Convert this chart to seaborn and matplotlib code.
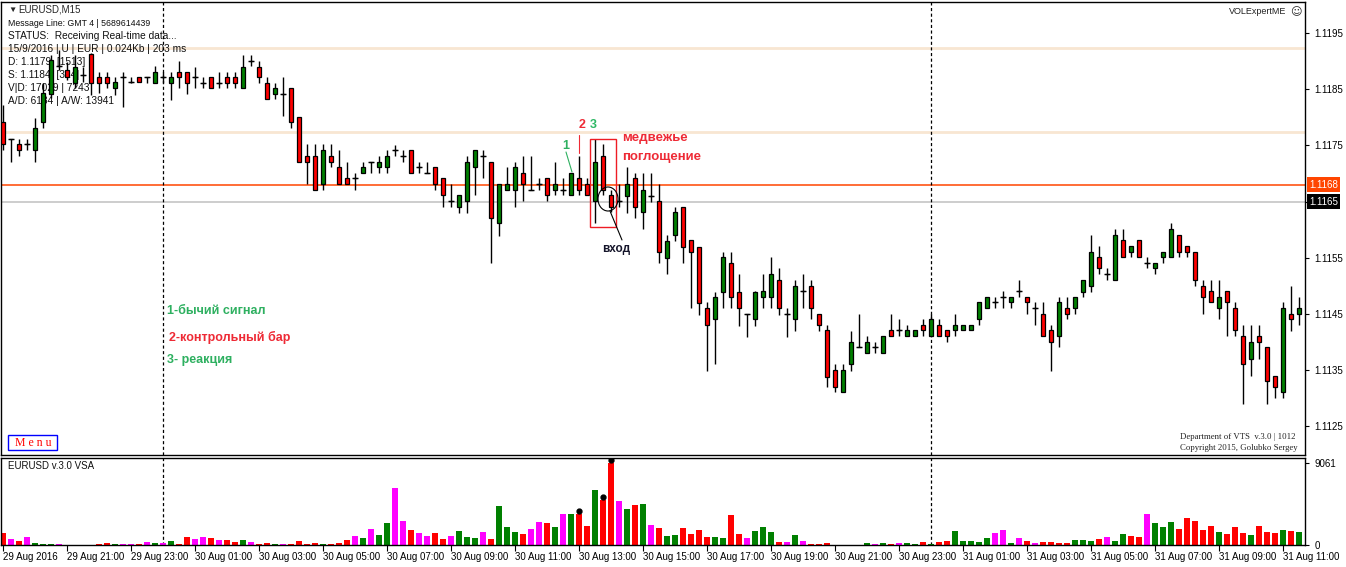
import matplotlib
matplotlib.use("Agg")
import matplotlib.pyplot as plt
import matplotlib.transforms as mtransforms
from matplotlib.patches import Rectangle, Ellipse
import seaborn as sns

# EURUSD M15, 29 Aug 19:00 .. 31 Aug 11:30
opens = [
    1.11792, 1.11761, 1.11753, 1.11753, 1.11742, 1.11792, 1.11842, 1.11891, 1.11884, 1.11861,
    1.11875, 1.11913, 1.11872, 1.11872, 1.11852, 1.11872, 1.11863, 1.11872, 1.11872, 1.11861,
    1.11872, 1.11861, 1.11881, 1.11881, 1.11872, 1.11861, 1.11872, 1.11861, 1.11872, 1.11872,
    1.11852, 1.11900, 1.11890, 1.11861, 1.11842, 1.11842, 1.11852, 1.11801, 1.11731, 1.11731,
    1.11681, 1.11731, 1.11712, 1.11692, 1.11692, 1.11701, 1.11721, 1.11712, 1.11712, 1.11742,
    1.11731, 1.11742, 1.11712, 1.11701, 1.11712, 1.11692, 1.11651, 1.11641, 1.11651, 1.11712,
    1.11731, 1.11721, 1.11612, 1.11671, 1.11671, 1.11701, 1.11671, 1.11681, 1.11692, 1.11671,
    1.11671, 1.11662, 1.11692, 1.11681, 1.11651, 1.11731, 1.11662, 1.11651, 1.11660, 1.11692,
    1.11632, 1.11660, 1.11651, 1.11550, 1.11591, 1.11641, 1.11582, 1.11569, 1.11461, 1.11441,
    1.11489, 1.11541, 1.11489, 1.11450, 1.11441, 1.11480, 1.11480, 1.11511, 1.11450, 1.11441,
    1.11491, 1.11500, 1.11450, 1.11422, 1.11350, 1.11311, 1.11361, 1.11391, 1.11381, 1.11391,
    1.11381, 1.11422, 1.11422, 1.11411, 1.11411, 1.11431, 1.11411, 1.11431, 1.11422, 1.11422,
    1.11422, 1.11422, 1.11441, 1.11461, 1.11471, 1.11480, 1.11471, 1.11491, 1.11480, 1.11461,
    1.11450, 1.11422, 1.11411, 1.11461, 1.11461, 1.11489, 1.11500, 1.11552, 1.11521, 1.11511,
    1.11582, 1.11560, 1.11582, 1.11541, 1.11532, 1.11552, 1.11552, 1.11591, 1.11571, 1.11560,
    1.11500, 1.11491, 1.11461, 1.11491, 1.11461, 1.11411, 1.11370, 1.11411, 1.11391, 1.11340,
    1.11311, 1.11450, 1.11450,
]
highs = [
    1.11822, 1.11761, 1.11761, 1.11761, 1.11799, 1.11861, 1.11911, 1.11920, 1.11898, 1.11911,
    1.11890, 1.11914, 1.11881, 1.11881, 1.11872, 1.11881, 1.11872, 1.11872, 1.11872, 1.11891,
    1.11881, 1.11881, 1.11900, 1.11881, 1.11890, 1.11872, 1.11872, 1.11881, 1.11881, 1.11881,
    1.11911, 1.11911, 1.11900, 1.11872, 1.11861, 1.11872, 1.11852, 1.11801, 1.11753, 1.11753,
    1.11753, 1.11753, 1.11742, 1.11721, 1.11701, 1.11721, 1.11721, 1.11731, 1.11742, 1.11751,
    1.11742, 1.11742, 1.11721, 1.11721, 1.11712, 1.11692, 1.11681, 1.11662, 1.11731, 1.11742,
    1.11742, 1.11721, 1.11681, 1.11712, 1.11721, 1.11731, 1.11731, 1.11692, 1.11692, 1.11721,
    1.11692, 1.11701, 1.11731, 1.11692, 1.11761, 1.11753, 1.11671, 1.11681, 1.11712, 1.11701,
    1.11701, 1.11701, 1.11681, 1.11591, 1.11641, 1.11641, 1.11582, 1.11569, 1.11471, 1.11489,
    1.11560, 1.11560, 1.11521, 1.11450, 1.11491, 1.11521, 1.11552, 1.11532, 1.11461, 1.11511,
    1.11521, 1.11511, 1.11450, 1.11431, 1.11361, 1.11361, 1.11420, 1.11450, 1.11411, 1.11400,
    1.11411, 1.11450, 1.11441, 1.11431, 1.11422, 1.11441, 1.11450, 1.11441, 1.11422, 1.11450,
    1.11431, 1.11431, 1.11471, 1.11480, 1.11480, 1.11491, 1.11480, 1.11511, 1.11480, 1.11471,
    1.11471, 1.11431, 1.11480, 1.11480, 1.11480, 1.11511, 1.11591, 1.11571, 1.11532, 1.11601,
    1.11601, 1.11571, 1.11582, 1.11552, 1.11541, 1.11560, 1.11612, 1.11591, 1.11571, 1.11560,
    1.11511, 1.11511, 1.11511, 1.11491, 1.11471, 1.11431, 1.11431, 1.11431, 1.11391, 1.11340,
    1.11471, 1.11500, 1.11480,
]
lows = [
    1.11742, 1.11721, 1.11731, 1.11742, 1.11721, 1.11781, 1.11834, 1.11884, 1.11866, 1.11852,
    1.11863, 1.11840, 1.11843, 1.11852, 1.11840, 1.11818, 1.11861, 1.11863, 1.11861, 1.11861,
    1.11861, 1.11831, 1.11852, 1.11842, 1.11852, 1.11852, 1.11852, 1.11852, 1.11852, 1.11852,
    1.11852, 1.11891, 1.11861, 1.11833, 1.11833, 1.11802, 1.11781, 1.11721, 1.11681, 1.11671,
    1.11671, 1.11712, 1.11681, 1.11681, 1.11671, 1.11701, 1.11701, 1.11701, 1.11701, 1.11731,
    1.11721, 1.11701, 1.11701, 1.11701, 1.11671, 1.11641, 1.11641, 1.11630, 1.11630, 1.11662,
    1.11692, 1.11541, 1.11589, 1.11671, 1.11641, 1.11651, 1.11671, 1.11671, 1.11651, 1.11662,
    1.11662, 1.11662, 1.11662, 1.11662, 1.11612, 1.11662, 1.11632, 1.11641, 1.11630, 1.11621,
    1.11601, 1.11650, 1.11541, 1.11521, 1.11580, 1.11541, 1.11461, 1.11448, 1.11349, 1.11361,
    1.11461, 1.11461, 1.11429, 1.11409, 1.11429, 1.11461, 1.11461, 1.11448, 1.11409, 1.11420,
    1.11461, 1.11441, 1.11420, 1.11320, 1.11311, 1.11311, 1.11349, 1.11391, 1.11381, 1.11381,
    1.11381, 1.11411, 1.11411, 1.11411, 1.11411, 1.11411, 1.11411, 1.11411, 1.11400, 1.11411,
    1.11422, 1.11422, 1.11431, 1.11461, 1.11461, 1.11461, 1.11461, 1.11480, 1.11450, 1.11431,
    1.11411, 1.11349, 1.11391, 1.11441, 1.11450, 1.11480, 1.11489, 1.11521, 1.11511, 1.11511,
    1.11552, 1.11552, 1.11552, 1.11532, 1.11521, 1.11541, 1.11552, 1.11552, 1.11552, 1.11500,
    1.11450, 1.11471, 1.11441, 1.11411, 1.11411, 1.11290, 1.11340, 1.11370, 1.11290, 1.11301,
    1.11301, 1.11420, 1.11431,
]
closes = [
    1.11753, 1.11761, 1.11742, 1.11753, 1.11781, 1.11843, 1.11902, 1.11891, 1.11872, 1.11890,
    1.11875, 1.11861, 1.11861, 1.11861, 1.11863, 1.11872, 1.11863, 1.11863, 1.11872, 1.11881,
    1.11872, 1.11872, 1.11872, 1.11861, 1.11872, 1.11861, 1.11852, 1.11861, 1.11861, 1.11861,
    1.11890, 1.11900, 1.11872, 1.11833, 1.11852, 1.11842, 1.11792, 1.11721, 1.11721, 1.11671,
    1.11742, 1.11721, 1.11681, 1.11681, 1.11692, 1.11712, 1.11721, 1.11721, 1.11731, 1.11742,
    1.11731, 1.11701, 1.11712, 1.11701, 1.11681, 1.11662, 1.11651, 1.11662, 1.11721, 1.11742,
    1.11731, 1.11621, 1.11681, 1.11681, 1.11712, 1.11681, 1.11671, 1.11681, 1.11662, 1.11681,
    1.11671, 1.11701, 1.11671, 1.11662, 1.11721, 1.11671, 1.11641, 1.11651, 1.11681, 1.11641,
    1.11671, 1.11660, 1.11560, 1.11580, 1.11632, 1.11569, 1.11560, 1.11470, 1.11431, 1.11480,
    1.11552, 1.11480, 1.11461, 1.11450, 1.11489, 1.11491, 1.11521, 1.11461, 1.11450, 1.11500,
    1.11491, 1.11461, 1.11431, 1.11338, 1.11320, 1.11350, 1.11400, 1.11391, 1.11400, 1.11391,
    1.11411, 1.11411, 1.11422, 1.11422, 1.11422, 1.11422, 1.11441, 1.11411, 1.11411, 1.11431,
    1.11431, 1.11431, 1.11471, 1.11480, 1.11471, 1.11480, 1.11480, 1.11491, 1.11471, 1.11461,
    1.11411, 1.11400, 1.11471, 1.11450, 1.11480, 1.11511, 1.11560, 1.11532, 1.11521, 1.11591,
    1.11552, 1.11571, 1.11552, 1.11541, 1.11541, 1.11560, 1.11601, 1.11560, 1.11560, 1.11511,
    1.11480, 1.11471, 1.11480, 1.11471, 1.11422, 1.11361, 1.11400, 1.11400, 1.11331, 1.11320,
    1.11461, 1.11441, 1.11461,
]

# VSA volume histogram and its colour class (g = green, r = red, m = magenta)
volumes = [
    1362, 662, 442, 883, 221, 110, 110, 110, 0, 0,
    0, 0, 110, 221, 110, 74, 74, 110, 331, 221,
    221, 442, 110, 883, 662, 883, 773, 552, 552, 331,
    552, 331, 60, 221, 60, 110, 110, 442, 110, 221,
    110, 110, 221, 552, 994, 773, 1766, 1104, 2429, 6330,
    2650, 1656, 1325, 994, 1325, 662, 994, 1546, 883, 773,
    1435, 662, 4306, 1987, 1435, 1214, 1766, 2539, 2429, 1987,
    3422, 3422, 3422, 2098, 6072, 4968, 9061, 4858, 3974, 4416,
    4526, 2208, 1877, 994, 1104, 1877, 1214, 1656, 883, 883,
    773, 3312, 1214, 773, 1546, 1987, 1435, 331, 331, 1104,
    442, 110, 60, 221, 0, 0, 0, 0, 184, 74,
    184, 74, 184, 184, 74, 294, 110, 294, 405, 1509,
    405, 405, 294, 736, 1288, 1619, 184, 736, 405, 184,
    294, 294, 184, 184, 515, 515, 405, 626, 846, 405,
    1178, 957, 846, 3386, 2392, 1950, 2502, 1730, 2944, 2613,
    1619, 2061, 1398, 1178, 1950, 1288, 1067, 2061, 1398, 1288,
    1619, 1509, 1398,
]
vol_class = list(
    "rmrmgggmgg" "ggrrgmmrmg" "mgrrmmrmrr" "gmrrgmrrrr"
    "grrrmgmggm" "mrmmrrmggg" "mrgggrmmrg" "mgrrgrrmgr"
    "gmrggrrrrg" "grrmgggrmg" "mrrrgggggm" "grmggrgrrg"
    "ggggmmgmrm" "rrrrgggrmg" "grrmgggrrr" "rrgrrrgrrr"
    "grg"
)
vsa_marked = [72, 75, 76]  # bars with a black marker above the volume bar

ask_price = 1.1168
bid_price = 1.1165
level_lines = [1.11923, 1.11774]
day_breaks = [20, 116]
price_ticks = [1.1125, 1.1135, 1.1145, 1.1155, 1.1165, 1.1175, 1.1185, 1.1195]
time_labels = [
    "29 Aug 2016", "29 Aug 21:00", "29 Aug 23:00", "30 Aug 01:00", "30 Aug 03:00",
    "30 Aug 05:00", "30 Aug 07:00", "30 Aug 09:00", "30 Aug 11:00", "30 Aug 13:00",
    "30 Aug 15:00", "30 Aug 17:00", "30 Aug 19:00", "30 Aug 21:00", "30 Aug 23:00",
    "31 Aug 01:00", "31 Aug 03:00", "31 Aug 05:00", "31 Aug 07:00", "31 Aug 09:00",
    "31 Aug 11:00",
]

n = len(opens)
assert n == len(highs) == len(lows) == len(closes) == len(volumes) == len(vol_class) == 163

BULL = "#008000"
BEAR = "#ff0000"
vol_palette = {"g": "#008000", "r": "#ff0000", "m": "#ff00ff"}
NOTE_GREEN = "#2eb060"
NOTE_RED = "#ee2a35"

sns.set_theme(style="white")
plt.rcParams["font.family"] = ["Liberation Sans", "DejaVu Sans"]

W, H = 1346, 567
fig = plt.figure(figsize=(W / 100, H / 100), dpi=100)
fig.patch.set_facecolor("white")


def fx(px):
    return px / W


def fy(py):
    return 1 - py / H


# pixel coordinates (origin top-left) -> figure
pix = mtransforms.Affine2D().scale(1 / W, -1 / H).translate(0, 1) + fig.transFigure

ax = fig.add_axes([fx(1), fy(455), fx(1305) - fx(1), fy(2) - fy(455)])
axv = fig.add_axes([fx(1), fy(545), fx(1305) - fx(1), fy(458) - fy(545)])

idx = list(range(n))

# ---- price panel ----
for lv in level_lines:
    ax.axhline(lv, color="#f8e6d2", lw=2, zorder=1)
ax.axhline(ask_price, color="#ff4500", lw=1.1, zorder=2)
ax.axhline(bid_price, color="#c0c0c0", lw=1.1, zorder=2)
for d in day_breaks:
    ax.axvline(d, color="black", lw=0.9, ls=(0, (2.5, 2)), zorder=2)
    axv.axvline(d, color="black", lw=0.9, ls=(0, (2.5, 2)), zorder=0)

ax.vlines(idx, lows, highs, color="black", lw=1, zorder=3)
body_col, body_bot, body_h = [], [], []
for o, c in zip(opens, closes):
    body_col.append(BULL if c > o else BEAR)
    body_bot.append(min(o, c))
    body_h.append(abs(c - o))
ax.bar(idx, body_h, bottom=body_bot, width=0.6, color=body_col,
       edgecolor="black", linewidth=0.9, zorder=4)
doji = [i for i in idx if opens[i] == closes[i]]
ax.hlines([opens[i] for i in doji], [i - 0.32 for i in doji], [i + 0.32 for i in doji],
          color="black", lw=1, zorder=4)

ax.set_xlim(-0.25, 162.75)
ax.set_ylim(1.11199, 1.12005)
ax.set_xticks([])
ax.yaxis.tick_right()
ax.set_yticks(price_ticks)
# the bid tag covers its own tick label
ax.set_yticklabels(["" if p == bid_price else f"{p:.4f}" for p in price_ticks])
ax.tick_params(axis="y", direction="out", length=3, width=0.8, pad=4,
               labelsize=7, colors="black", right=True)
for s in ax.spines.values():
    s.set_color("black")
    s.set_linewidth(1)

# highlighted price tags
tagtf = mtransforms.blended_transform_factory(ax.transAxes, ax.transData)
ax.text(1.003, ask_price, f"{ask_price:.4f}", transform=tagtf, fontsize=7, color="white",
        va="center", ha="left", zorder=6,
        bbox=dict(facecolor="#ff4500", edgecolor="none", pad=1.6))
ax.text(1.003, bid_price, f"{bid_price:.4f}", transform=tagtf, fontsize=7, color="white",
        va="center", ha="left", zorder=6,
        bbox=dict(facecolor="black", edgecolor="none", pad=1.6))

# info block top-left (drawn under the candles)
ax.text(8, 10, "\u25bc", transform=pix, fontsize=6, va="center", ha="left", zorder=1)
ax.text(18, 10, "EURUSD,M15", transform=pix, fontsize=7, va="center", ha="left", zorder=1)
info = [
    (23, "Message Line: GMT 4 | 5689614439", 6.3),
    (36, "STATUS:  Receiving Real-time data...", 7.3),
    (49, "15/9/2016 | U | EUR | 0.024Kb | 203 ms", 7.3),
    (62, "D: 1.1179  [1513]", 7.3),
    (75, "S: 1.1184  [324]", 7.3),
    (88, "V|D: 17029 | 7243", 7.3),
    (101, "A/D: 6134 | A/W: 13941", 7.3),
]
for y, t, fs in info:
    ax.text(8, y, t, transform=pix, fontsize=fs, va="center", ha="left",
            color="#111111", zorder=1)
ax.text(1286, 12, "VOLExpertME", transform=pix, fontsize=6.5, va="center", ha="right",
        color="#222222", zorder=1)
ax.text(1296, 12, "\u263a", transform=pix, fontsize=8, va="center", ha="center",
        family="DejaVu Sans", zorder=1)

# trade annotation
bold = dict(family="Liberation Sans", fontweight="bold", transform=pix, zorder=6)
ax.add_patch(Rectangle((590, 139), 26, 88, transform=pix, fill=False,
                       edgecolor="#ee1c24", lw=1, zorder=5))
ax.add_patch(Ellipse((608, 199), 20, 24, transform=pix, fill=False,
                     edgecolor="black", lw=0.8, zorder=5))
ax.plot([610, 622], [211, 240], transform=pix, color="black", lw=0.8, zorder=5)
ax.plot([566, 572], [152, 172], transform=pix, color=NOTE_GREEN, lw=0.8, zorder=5)
ax.plot([579, 579], [135, 153], transform=pix, color=NOTE_RED, lw=0.8, zorder=5)
ax.text(616, 249, "вход", fontsize=8.5, color="#15152a", ha="center", va="center", **bold)
ax.text(566, 146, "1", fontsize=9, color=NOTE_GREEN, ha="center", va="center", **bold)
ax.text(582, 125, "2", fontsize=9, color=NOTE_RED, ha="center", va="center", **bold)
ax.text(593, 125, "3", fontsize=9, color="#2eb865", ha="center", va="center", **bold)
ax.text(622, 138, "медвежье", fontsize=9.5, color=NOTE_RED, ha="left", va="center", **bold)
ax.text(622, 157, "поглощение", fontsize=9.5, color=NOTE_RED, ha="left", va="center", **bold)

ax.text(167, 311, "1-бычий сигнал", fontsize=9, color=NOTE_GREEN, ha="left", va="center", **bold)
ax.text(169, 337, "2-контрольный бар", fontsize=9, color=NOTE_RED, ha="left", va="center", **bold)
ax.text(167, 360, "3- реакция", fontsize=9, color=NOTE_GREEN, ha="left", va="center", **bold)

# menu button and copyright
ax.add_patch(Rectangle((8, 435), 49, 15, transform=pix, facecolor="white",
                       edgecolor="#0000ff", lw=1, zorder=6))
ax.text(33, 443, "M e n u", transform=pix, fontsize=8.5, family="Liberation Serif",
        color="#ff0000", ha="center", va="center", zorder=7)
ax.text(1296, 437, "Department of VTS  v.3.0 | 1012", transform=pix, fontsize=6.3,
        family="Liberation Serif", color="#222222", ha="right", va="center", zorder=6)
ax.text(1298, 448, "Copyright 2015, Golubko Sergey", transform=pix, fontsize=6.3,
        family="Liberation Serif", color="#222222", ha="right", va="center", zorder=6)

# ---- volume panel ----
sns.barplot(x=idx, y=volumes, hue=vol_class, palette=vol_palette, dodge=False,
            native_scale=True, width=0.65, saturation=1, errorbar=None,
            legend=False, linewidth=0, ax=axv)
axv.plot(vsa_marked, [volumes[i] + 300 for i in vsa_marked], "o", color="black",
         ms=3.5, zorder=5)
axv.set_xlim(-0.25, 162.75)
axv.set_ylim(0, 9061 * 87 / 82)
axv.set_xlabel("")
axv.set_ylabel("")
axv.yaxis.tick_right()
axv.set_yticks([0, 9061])
axv.set_yticklabels(["0", "9061"])
axv.set_xticks(list(range(0, n, 8)))
axv.set_xticklabels(time_labels, ha="left")
axv.tick_params(axis="x", direction="out", length=4, width=0.8, pad=1,
                labelsize=7, colors="black", bottom=True)
axv.tick_params(axis="y", direction="out", length=3, width=0.8, pad=4,
                labelsize=7, colors="black", right=True)
for s in axv.spines.values():
    s.set_color("black")
    s.set_linewidth(1)
axv.text(8, 466, "EURUSD v.3.0 VSA", transform=pix, fontsize=7, ha="left",
         va="center", color="#111111")

fig.savefig("out.png", dpi=100, facecolor="white")
